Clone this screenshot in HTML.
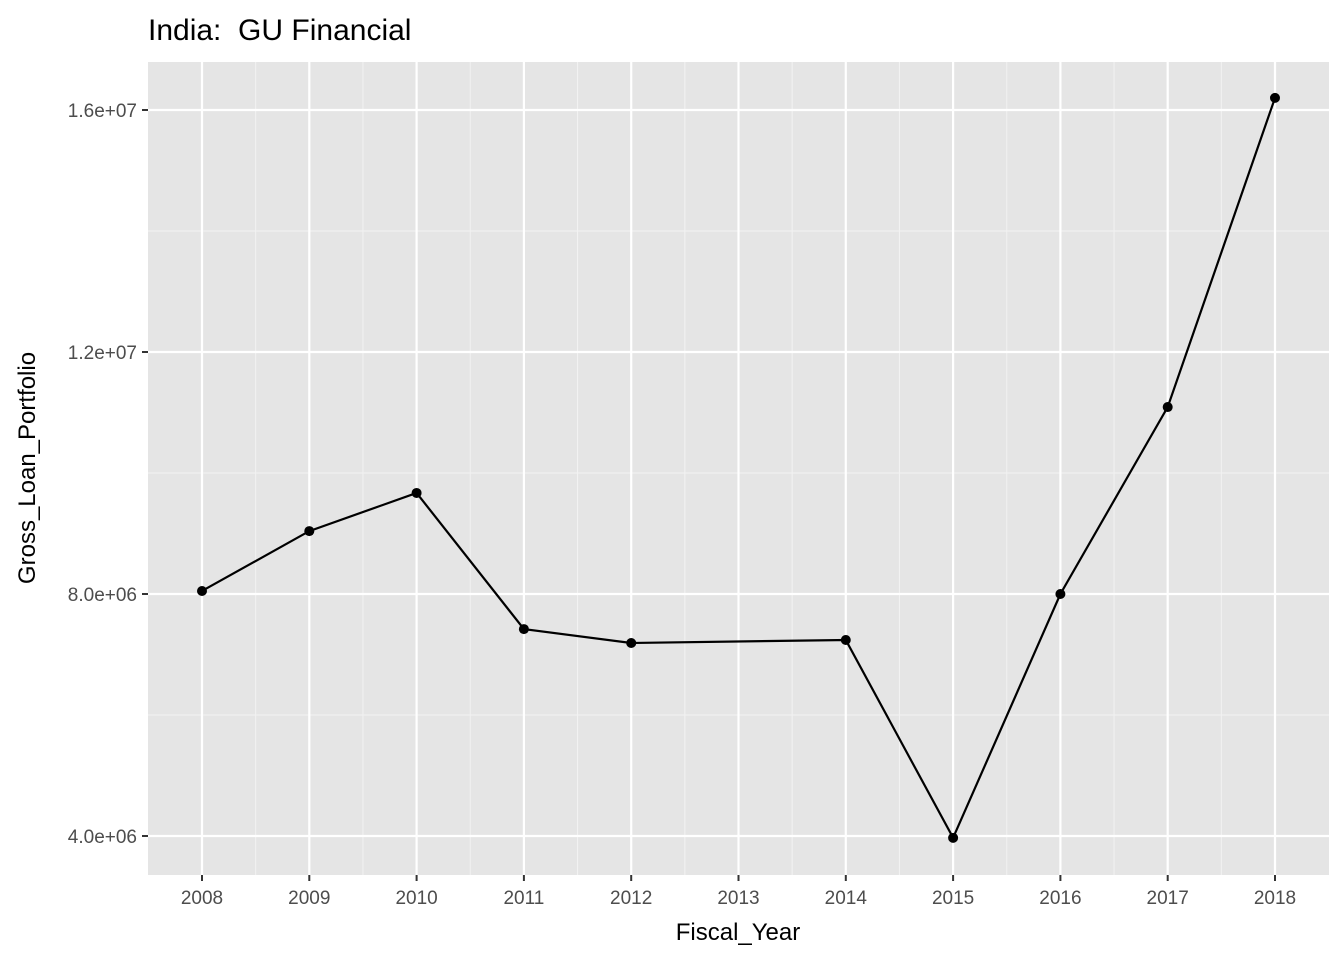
<!DOCTYPE html>
<html><head><meta charset="utf-8"><style>
body{margin:0;background:#fff;font-family:"Liberation Sans",Arial,sans-serif}
</style></head><body>
<svg id="chart" width="1344" height="960" xmlns="http://www.w3.org/2000/svg">
<text x="148" y="40" font-size="30" fill="#000">India:&#160; GU Financial</text>
<rect x="148" y="62" width="1181" height="813" fill="#e5e5e5"/>
<g id="grid"></g><g id="axes"></g><g id="series"></g>
<text x="738" y="940" font-size="24" text-anchor="middle">Fiscal_Year</text>
<text transform="translate(35,468) rotate(-90)" font-size="24" text-anchor="middle">Gross_Loan_Portfolio</text>
</svg>
<script>
const years = [2008,2009,2010,2011,2012,2014,2015,2016,2017,2018];
const values = [8.05e6,9.04e6,9.67e6,7.42e6,7.19e6,7.24e6,3.97e6,8.0e6,11.09e6,16.2e6];
const xTicks = [2008,2009,2010,2011,2012,2013,2014,2015,2016,2017,2018];
const yTicks = [4e6,8e6,12e6,16e6];
const yTickLabels = ["4.0e+06","8.0e+06","1.2e+07","1.6e+07"];
const NS="http://www.w3.org/2000/svg";
const xs=y=>202+(y-2008)*107.3;
const ys=v=>836-(v-4e6)*242/4e6;
function mk(t,a,p){const e=document.createElementNS(NS,t);for(const k in a)e.setAttribute(k,a[k]);p.appendChild(e);return e;}
const grid=document.getElementById('grid'),axes=document.getElementById('axes'),series=document.getElementById('series');
for(let i=0;i<xTicks.length-1;i++){const x=(xs(xTicks[i])+xs(xTicks[i+1]))/2;
 const l=mk('line',{x1:x,x2:x,y1:62,y2:875,stroke:'#f2f2f2','stroke-width':1},grid);
 
 }
for(let i=0;i<yTicks.length-1;i++){const y=ys((yTicks[i]+yTicks[i+1])/2);
 const l=mk('line',{x1:148,x2:1329,y1:y,y2:y,stroke:'#f2f2f2','stroke-width':1},grid);
 
 }
xTicks.forEach(t=>{const x=xs(t);
 const l=mk('line',{x1:x,x2:x,y1:62,y2:875,stroke:'#fff','stroke-width':2.2},grid);
 
 
 mk('line',{x1:x,x2:x,y1:875,y2:881,stroke:'#333','stroke-width':2},axes);
 const tx=mk('text',{x:x,y:904,'font-size':19,'text-anchor':'middle',fill:'#4d4d4d'},axes);tx.textContent=t;
 
 });
yTicks.forEach((t,i)=>{const y=ys(t);
 const l=mk('line',{x1:148,x2:1329,y1:y,y2:y,stroke:'#fff','stroke-width':2.2},grid);
 
 
 mk('line',{x1:142,x2:148,y1:y,y2:y,stroke:'#333','stroke-width':2},axes);
 const tx=mk('text',{x:137,y:y+7,'font-size':19,'text-anchor':'end',fill:'#4d4d4d'},axes);tx.textContent=yTickLabels[i];
 
 });
const pl=mk('polyline',{points:years.map((y,i)=>xs(y)+','+ys(values[i])).join(' '),fill:'none',stroke:'#000','stroke-width':2.2},series);


years.forEach((y,i)=>{const c=mk('circle',{cx:xs(y),cy:ys(values[i]),r:5,fill:'#000'},series);
 
 });
</script>
</body></html>
